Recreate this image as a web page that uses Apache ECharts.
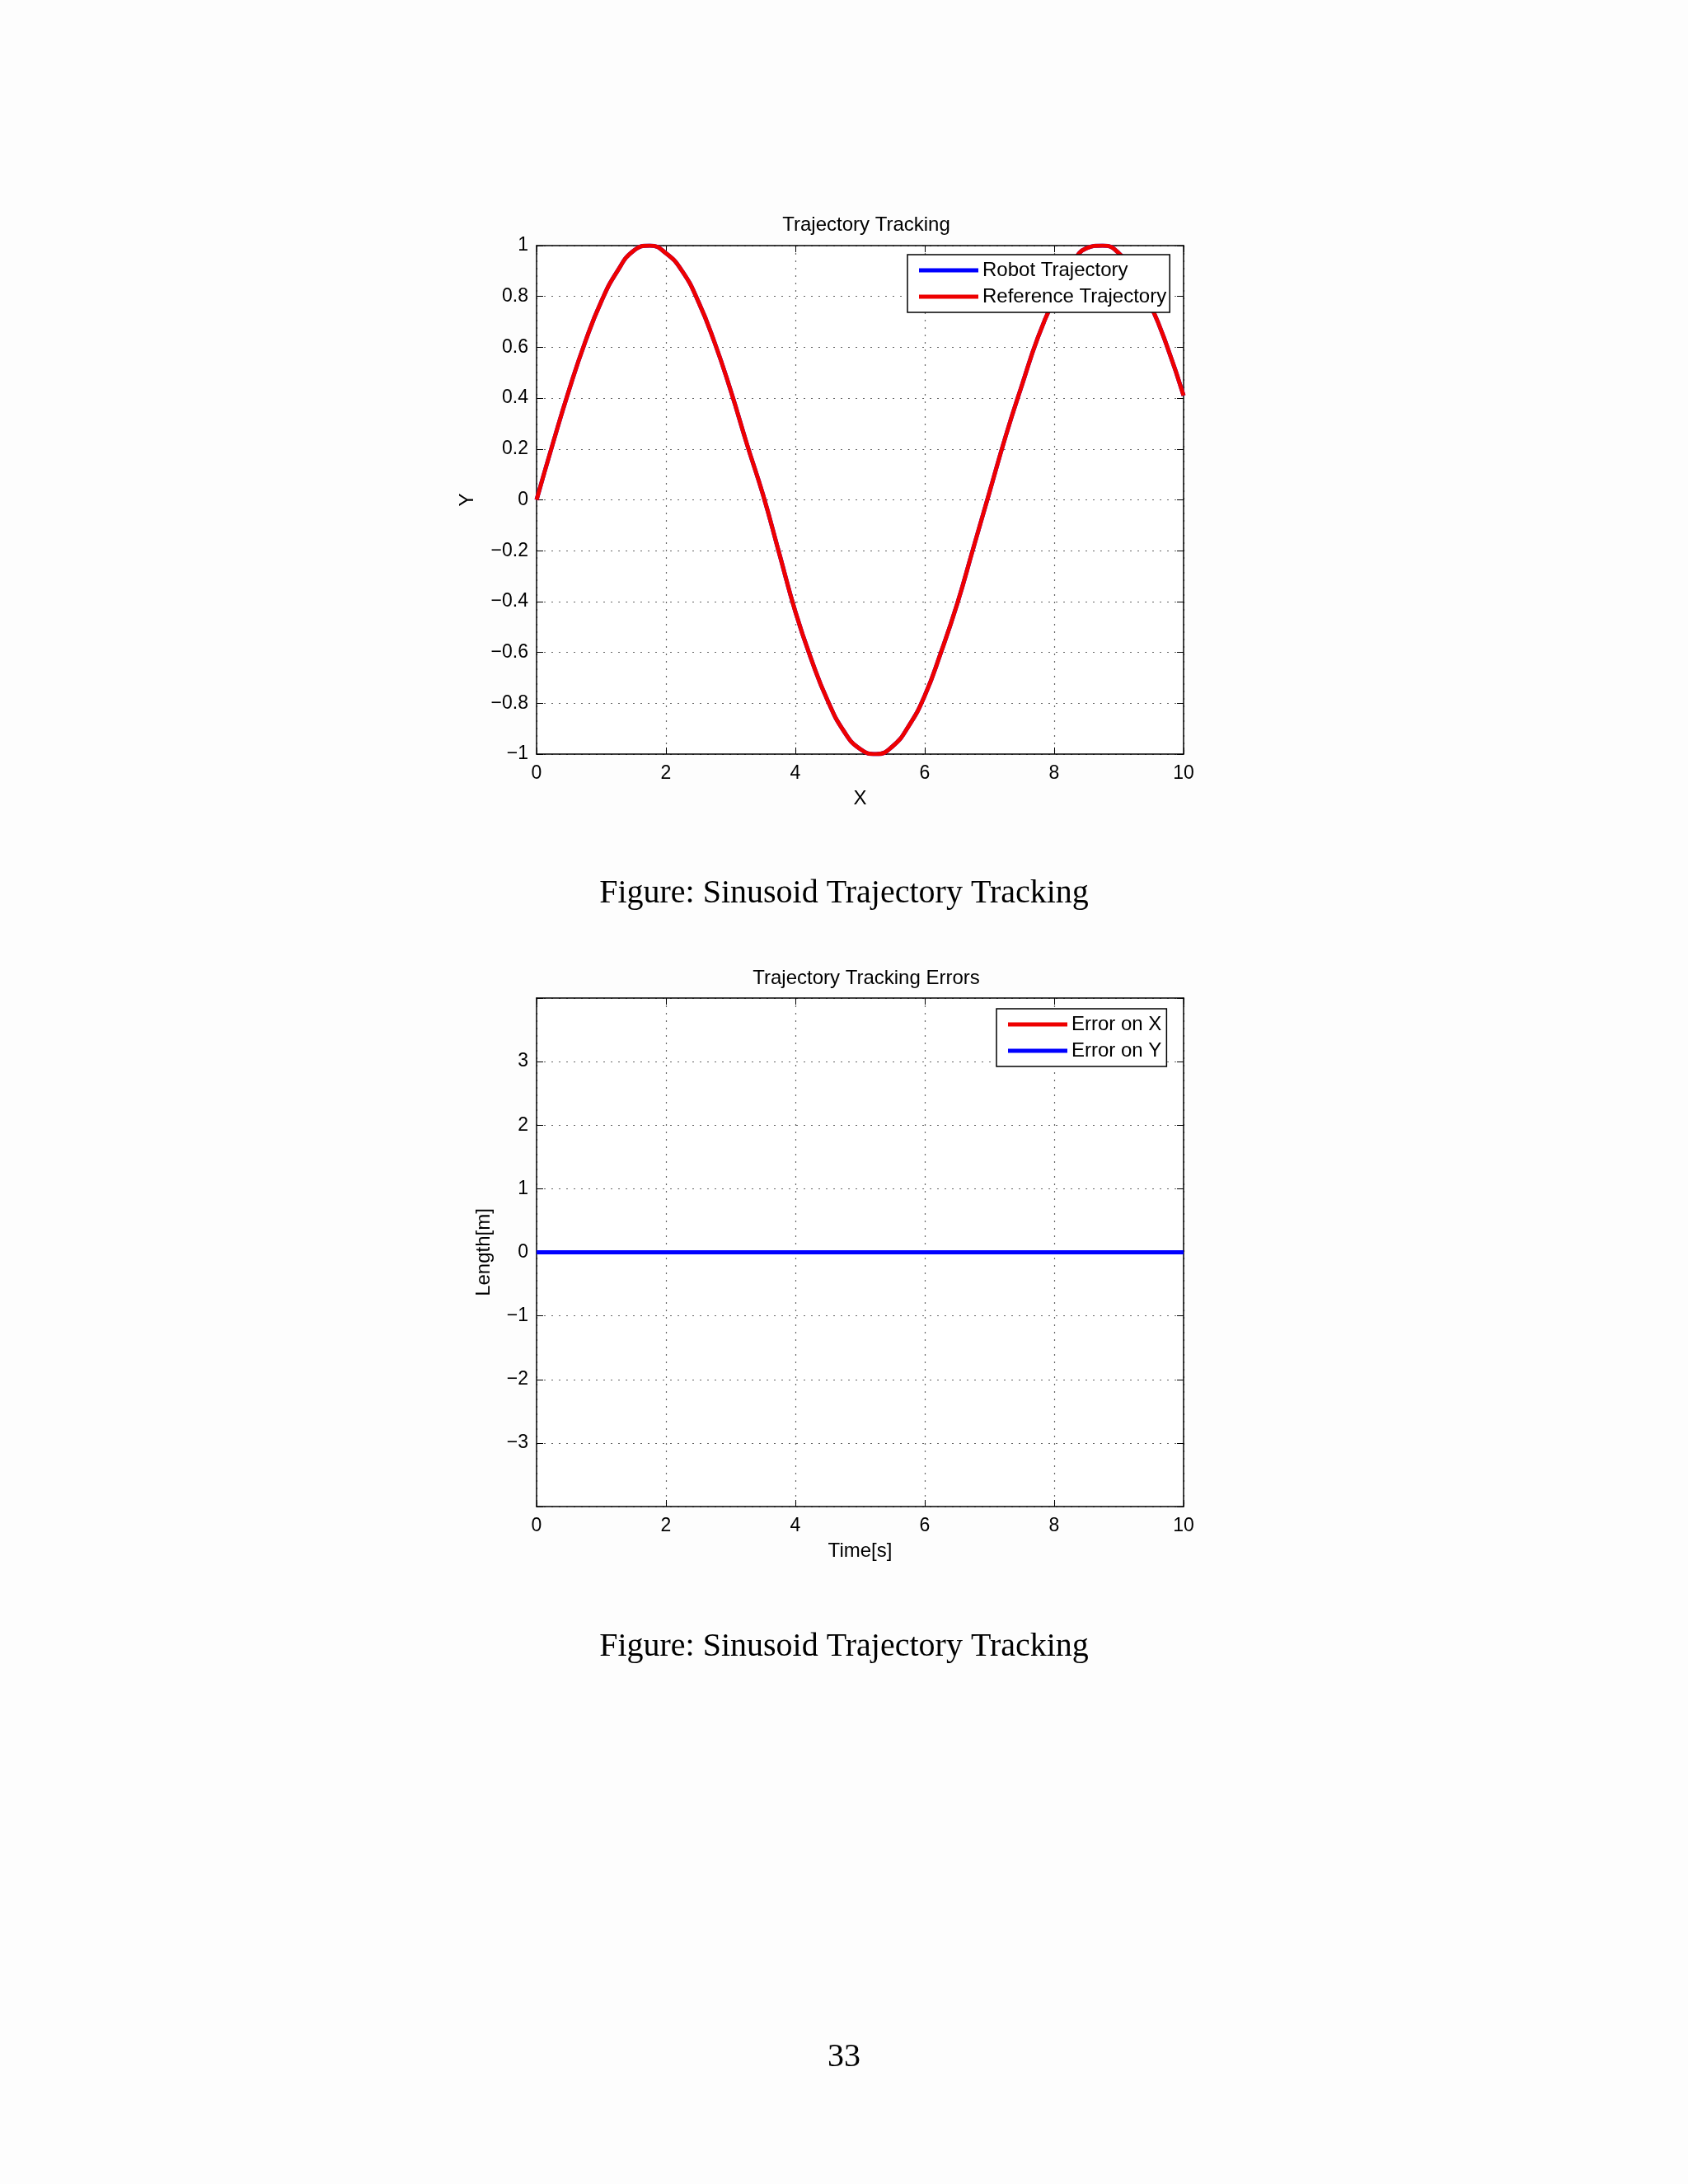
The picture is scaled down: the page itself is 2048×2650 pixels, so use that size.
<!DOCTYPE html>
<html>
<head>
<meta charset="utf-8">
<script src="https://cdn.jsdelivr.net/npm/echarts@6/dist/echarts.min.js"></script>
<style>
  html, body { margin: 0; padding: 0; background: #fff; }
  #myChart { width: 2048px; height: 2650px; }
</style>
</head>
<body>
<div id="myChart"></div>
<script>
var myChart = echarts.init(document.getElementById('myChart'));

// values
var trajX = [0, 0.25, 0.5, 0.75, 1, 1.25, 1.5, 1.75, 2, 2.25, 2.5, 2.75, 3, 3.25, 3.5, 3.75, 4, 4.25, 4.5, 4.75,
             5, 5.25, 5.5, 5.75, 6, 6.25, 6.5, 6.75, 7, 7.25, 7.5, 7.75, 8, 8.25, 8.5, 8.75, 9, 9.25, 9.5, 9.75, 10];
var refY  = [0, 0.22, 0.43, 0.62, 0.78, 0.90, 0.98, 1.0, 0.97, 0.90, 0.78, 0.62, 0.43, 0.22, 0.02, -0.21, -0.44, -0.63, -0.79, -0.91,
             -0.98, -1.0, -0.97, -0.89, -0.77, -0.60, -0.41, -0.19, 0.03, 0.25, 0.45, 0.64, 0.79, 0.91, 0.99, 1.0, 0.97, 0.88, 0.76, 0.60, 0.41];
var robotY = refY.slice();
var timeX = [0, 2, 4, 6, 8, 10];
var errX = [0, 0, 0, 0, 0, 0];
var errY = [0, 0, 0, 0, 0, 0];

function pairs(xs, ys){
    var out = [];
    for(var i=0; i<xs.length; i++){ out.push([xs[i], ys[i]]); }
    return out;
}

var font = 'Liberation Sans, Arial, sans-serif';
var tickLabel = {color: '#000', fontSize: 23, fontFamily: font};
var gridLine = {show: true, lineStyle: {color: '#666', type: [2, 7], width: 1.2}};

function xAx(gi, main, name){
    return {
        type: 'value', gridIndex: gi, min: 0, max: 10, interval: 2,
        position: main ? 'bottom' : 'top',
        axisLine: {show: true, onZero: false, lineStyle: {color: '#000', width: 1.5}},
        axisTick: {show: true, inside: true, length: 8, lineStyle: {color: '#000'}},
        axisLabel: {show: main, margin: 12, textStyle: tickLabel},
        splitLine: main ? gridLine : {show: false},
        name: main ? name : '', nameLocation: 'middle', nameGap: 42,
        nameTextStyle: {color: '#000', fontSize: 24, fontFamily: font}
    };
}
function yAx(gi, main, name, min, max, interval, nameGap, fmt){
    return {
        type: 'value', gridIndex: gi, min: min, max: max, interval: interval,
        position: main ? 'left' : 'right',
        axisLine: {show: true, onZero: false, lineStyle: {color: '#000', width: 1.5}},
        axisTick: {show: true, inside: true, length: 8, lineStyle: {color: '#000'}},
        axisLabel: {show: main, margin: 10, textStyle: tickLabel, formatter: fmt},
        splitLine: main ? gridLine : {show: false},
        name: main ? name : '', nameLocation: 'middle', nameGap: nameGap, nameRotate: 90,
        nameTextStyle: {color: '#000', fontSize: 24, fontFamily: font}
    };
}
function minus(v){ return String(Math.round(v * 10) / 10).replace('-', '\u2212'); }
function errFmt(v){ return (v <= -4 || v >= 4) ? '' : minus(v); }

var option = {
    backgroundColor: '#fdfdfd',
    animation: false,
    title: [
        {text: 'Trajectory Tracking', left: 1046, top: 256, textAlign: 'center',
         textStyle: {fontSize: 24, fontWeight: 'normal', color: '#000', fontFamily: font}},
        {text: 'Trajectory Tracking Errors', left: 1046, top: 1170, textAlign: 'center',
         textStyle: {fontSize: 24, fontWeight: 'normal', color: '#000', fontFamily: font}}
    ],
    grid: [
        {left: 651, width: 785, top: 298, height: 617, backgroundColor: '#fff', show: true, borderWidth: 0},
        {left: 651, width: 785, top: 1211, height: 617, backgroundColor: '#fff', show: true, borderWidth: 0}
    ],
    legend: [
        {data: ['Robot Trajectory', 'Reference Trajectory'], orient: 'vertical',
         left: 1101, top: 309, itemWidth: 72, itemHeight: 5, itemGap: 8, padding: [7, 4, 7, 14],
         borderColor: '#000', borderWidth: 1.5, borderRadius: 0, backgroundColor: '#fff',
         icon: 'rect', textStyle: {fontSize: 24, color: '#000', fontFamily: font}},
        {data: ['Error on X', 'Error on Y'], orient: 'vertical',
         left: 1209, top: 1224, itemWidth: 72, itemHeight: 5, itemGap: 8, padding: [7, 6, 7, 14],
         borderColor: '#000', borderWidth: 1.5, borderRadius: 0, backgroundColor: '#fff',
         icon: 'rect', textStyle: {fontSize: 24, color: '#000', fontFamily: font}}
    ],
    xAxis: [xAx(0, true, 'X'), xAx(0, false), xAx(1, true, 'Time[s]'), xAx(1, false)],
    yAxis: [
        yAx(0, true, 'Y', -1, 1, 0.2, 72, minus), yAx(0, false, '', -1, 1, 0.2),
        yAx(1, true, 'Length[m]', -4, 4, 1, 52, errFmt), yAx(1, false, '', -4, 4, 1)
    ],
    series: [
        {name: 'Robot Trajectory', type: 'line', xAxisIndex: 0, yAxisIndex: 0, symbol: 'none', smooth: true,
         lineStyle: {color: '#0000ff', width: 5}, itemStyle: {color: '#0000ff'}, data: pairs(trajX, robotY)},
        {name: 'Reference Trajectory', type: 'line', xAxisIndex: 0, yAxisIndex: 0, symbol: 'none', smooth: true,
         lineStyle: {color: '#ee0000', width: 5}, itemStyle: {color: '#ee0000'}, data: pairs(trajX, refY)},
        {name: 'Error on X', type: 'line', xAxisIndex: 2, yAxisIndex: 2, symbol: 'none',
         lineStyle: {color: '#ee0000', width: 5}, itemStyle: {color: '#ee0000'}, data: pairs(timeX, errX)},
        {name: 'Error on Y', type: 'line', xAxisIndex: 2, yAxisIndex: 2, symbol: 'none',
         lineStyle: {color: '#0000ff', width: 5}, itemStyle: {color: '#0000ff'}, data: pairs(timeX, errY)}
    ],
    graphic: [
        {type: 'text', left: 'center', top: 1064, style: {text: 'Figure: Sinusoid Trajectory Tracking',
            fontSize: 40, fontFamily: 'Liberation Serif, Times New Roman, serif', fill: '#000'}},
        {type: 'text', left: 'center', top: 1978, style: {text: 'Figure: Sinusoid Trajectory Tracking',
            fontSize: 40, fontFamily: 'Liberation Serif, Times New Roman, serif', fill: '#000'}},
        {type: 'text', left: 'center', top: 2476, style: {text: '33',
            fontSize: 40, fontFamily: 'Liberation Serif, Times New Roman, serif', fill: '#000'}}
    ]
};
myChart.setOption(option);
</script>
</body>
</html>
